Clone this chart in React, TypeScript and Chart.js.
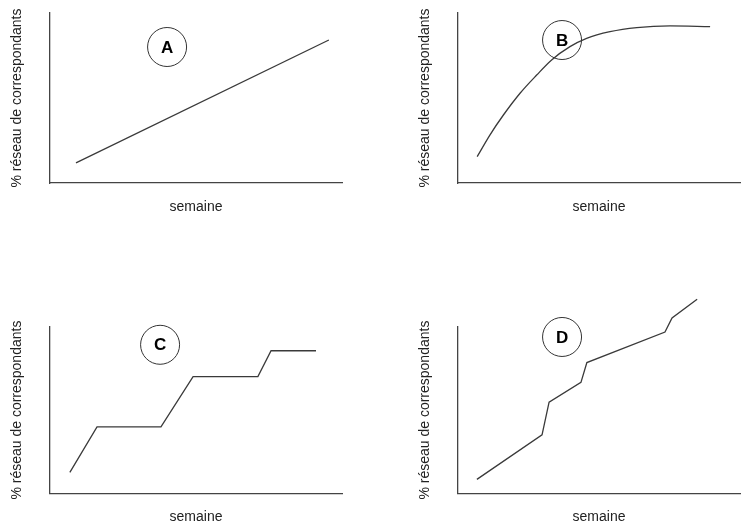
import React, { useEffect, useRef } from "react";
import { Chart, registerables } from "chart.js";

Chart.register(...registerables);

// ---- data (x = semaine, y = % réseau de correspondants, arbitrary 0-100 units) ----
const yTitle = "% réseau de correspondants";
const xTitle = "semaine";

const xA = [8.9, 95.5];
const yA = [11.8, 84.1];

const xB = [6.8, 11.3, 16.1, 22.0, 27.9, 33.2, 39.7, 45.6, 53.9, 63.4, 75.2, 89.4];
const yB = [15.5, 28.2, 40.0, 52.8, 63.5, 72.4, 80.2, 85.1, 89.0, 91.4, 92.4, 92.0];

const xC = [6.8, 16.1, 38.0, 49.0, 71.2, 75.7, 91.1];
const yC = [12.5, 39.9, 39.9, 70.2, 70.2, 85.7, 85.7];

const xD = [6.7, 29.8, 32.3, 43.6, 45.7, 73.4, 75.9, 84.8];
const yD = [8.3, 35.1, 54.8, 66.7, 78.6, 97.0, 105.4, 116.7];

const panelLetters = ["A", "B", "C", "D"];
const badgeX = [40.1, 36.9, 37.7, 36.9];
const badgeY = [80.0, 84.1, 89.3, 94.0];

type Panel = {
  xs: number[];
  ys: number[];
  smooth: boolean;
  left: number;
  top: number;
  width: number;
  height: number;
  pad: { left: number; top: number; right: number; bottom: number };
};

const FONT = "'Liberation Sans', Arial, sans-serif";
const INK = "#3a3a3a";

const badgePlugin = {
  id: "badge",
  afterDatasetsDraw(chart: any, _args: any, opts: any) {
    const { ctx, scales } = chart;
    const cx = scales.x.getPixelForValue(opts.x);
    const cy = scales.y.getPixelForValue(opts.y);
    ctx.save();
    ctx.beginPath();
    ctx.arc(cx, cy, 19.5, 0, Math.PI * 2);
    ctx.lineWidth = 1;
    ctx.strokeStyle = "#333";
    ctx.stroke();
    ctx.fillStyle = "#000";
    ctx.font = `bold 17px ${FONT}`;
    ctx.textAlign = "center";
    ctx.textBaseline = "middle";
    ctx.fillText(opts.letter, cx, cy + 1);
    ctx.restore();
  },
};

function PanelChart({ p, idx }: { p: Panel; idx: number }) {
  const ref = useRef<HTMLCanvasElement | null>(null);
  useEffect(() => {
    if (!ref.current) return;
    const data = p.xs.map((x, i) => ({ x, y: p.ys[i] }));
    const chart = new Chart(ref.current, {
      type: "line",
      data: {
        datasets: [
          {
            data,
            borderColor: INK,
            borderWidth: 1.3,
            pointRadius: 0,
            fill: false,
            tension: p.smooth ? 0.4 : 0,
            cubicInterpolationMode: p.smooth ? "monotone" : "default",
            clip: false as any,
          },
        ],
      },
      options: {
        animation: false,
        responsive: false,
        maintainAspectRatio: false,
        events: [],
        layout: { padding: p.pad },
        plugins: {
          legend: { display: false },
          tooltip: { enabled: false },
          badge: { letter: panelLetters[idx], x: badgeX[idx], y: badgeY[idx] },
        } as any,
        scales: {
          x: {
            type: "linear",
            min: 0,
            max: 100,
            grid: { display: false, drawTicks: false, tickLength: 0 },
            ticks: { display: false },
            border: { display: true, color: "#444", width: 1.3 },
            title: {
              display: true,
              text: xTitle,
              color: "#222",
              font: { family: FONT, size: 14, lineHeight: 1.2 },
              padding: { top: 16, bottom: 0 },
            },
          },
          y: {
            type: "linear",
            min: 0,
            max: 100,
            grid: { display: false, drawTicks: false, tickLength: 0 },
            ticks: { display: false },
            border: { display: true, color: "#444", width: 1.3 },
            title: {
              display: true,
              text: yTitle,
              color: "#222",
              font: { family: FONT, size: 14, lineHeight: 1.2 },
              padding: { top: 0, bottom: 24 },
            },
          },
        },
      },
      plugins: [badgePlugin],
    });
    return () => chart.destroy();
  }, []);
  return (
    <div
      style={{
        position: "absolute",
        left: p.left,
        top: p.top,
        width: p.width,
        height: p.height,
      }}
    >
      <canvas ref={ref} width={p.width} height={p.height} />
    </div>
  );
}

// y scale width = 16.8 + 0 + 24 = 40.8 ; x scale height = 16.8 + 16 = 32.8
const panels: Panel[] = [
  { xs: xA, ys: yA, smooth: false, left: 0, top: 0, width: 370, height: 240,
    pad: { left: 50 - 40.8, top: 13, right: 370 - 342, bottom: 240 - 183 - 32.8 } },
  { xs: xB, ys: yB, smooth: true, left: 370, top: 0, width: 371, height: 240,
    pad: { left: 458 - 370 - 40.8, top: 13, right: 741 - 740, bottom: 240 - 183 - 32.8 } },
  { xs: xC, ys: yC, smooth: false, left: 0, top: 280, width: 370, height: 246,
    pad: { left: 50 - 40.8, top: 327 - 280, right: 370 - 342, bottom: 0 } },
  { xs: xD, ys: yD, smooth: false, left: 370, top: 280, width: 371, height: 246,
    pad: { left: 458 - 370 - 40.8, top: 327 - 280, right: 741 - 740, bottom: 0 } },
];

export default function App() {
  useEffect(() => {
    document.body.style.margin = "0";
    document.body.style.background = "#fff";
  }, []);
  return (
    <div style={{ position: "relative", width: 741, height: 526, background: "#fff", overflow: "hidden" }}>
      {panels.map((p, i) => (
        <PanelChart key={i} p={p} idx={i} />
      ))}
    </div>
  );
}
